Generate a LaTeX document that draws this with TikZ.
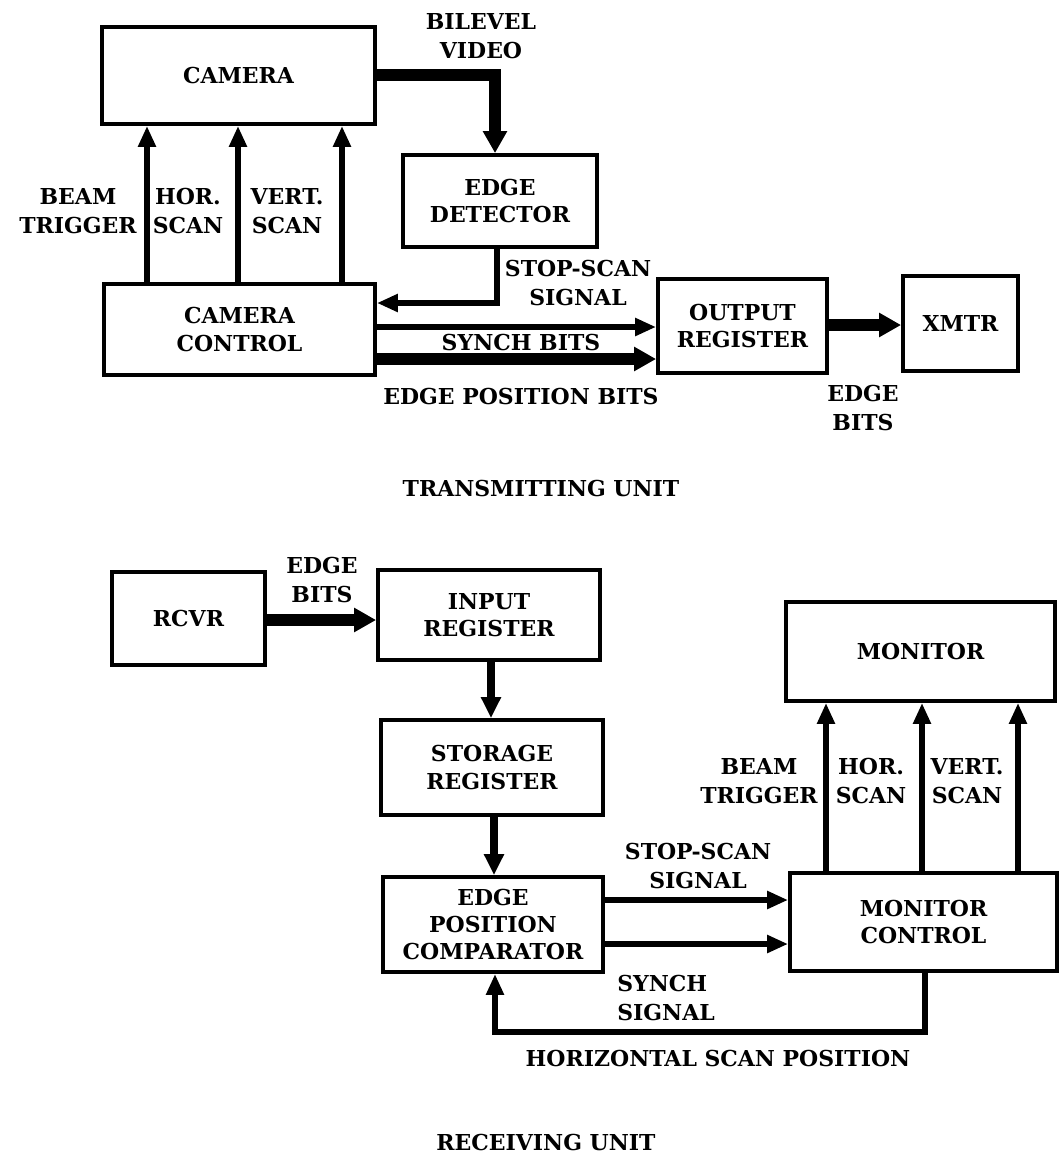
\documentclass[tikz,border=0pt]{standalone}
\usepackage{fontspec}
\setmainfont{DejaVu Serif}
\usetikzlibrary{arrows.meta}
\newcommand{\scanArrows}[3]{%%
  %% Beam trigger, horizontal scan and vertical scan.
  \foreach \xs in {#3}
    \draw[thinArrowStyle] (#1.north -| \xs,0) -- (#2.south -| \xs,0);
}
\newcommand{\scanLabels}[4]{%%
  \node[labelStyle] (#1beam) at (#2,#4) {BEAM\\TRIGGER};
  \node[labelStyle] (#1hor) at (#3,#4) {HOR.\\SCAN};
}

\begin{document}
\begin{tikzpicture}[%%
  x=0.02cm,y=-0.02cm,%%
  boxStyle/.style 2 args={draw,line width=2.2pt,inner sep=0pt,align=center,%%
    minimum width=#1cm,minimum height=#2cm,font=\fontsize{12.5}{15.5}\selectfont\bfseries},%%
  labelStyle/.style={align=center,inner sep=0pt,font=\fontsize{12.5}{16.5}\selectfont\bfseries},%%
  thinArrowStyle/.style={line width=3.2pt,miter limit=4,-{Triangle[length=0.42cm,width=0.34cm]}},%%
  midArrowStyle/.style={line width=4.6pt,-{Triangle[length=0.42cm,width=0.38cm]}},%%
  thickArrowStyle/.style={line width=7pt,-{Triangle[length=0.44cm,width=0.46cm]}}%%
]
\useasboundingbox (0,0) rectangle (1059,1160);
%%
%% Transmitting unit.
\node[boxStyle={5.46}{1.94}] (camera) at (238.5,75.5) {CAMERA};
\node[boxStyle={3.88}{1.84}] (detector) at (500,201) {EDGE\\DETECTOR};
\node[boxStyle={5.42}{1.82}] (cameraControl) at (239.5,329.5) {CAMERA\\CONTROL};
\node[boxStyle={3.38}{1.88}] (outputRegister) at (742.5,326) {OUTPUT\\REGISTER};
\node[boxStyle={2.30}{1.90}] (xmtr) at (960.5,323.5) {XMTR};
%%
\coordinate (videoBend) at (495,75);
\draw[thickArrowStyle] (camera.east |- videoBend) -- (videoBend) -- (detector.north -| videoBend);
\node[labelStyle] (videoLabel) at (481,36) {BILEVEL\\VIDEO};
%%
\scanArrows{cameraControl}{camera}{147,238,342}
\scanLabels{tx}{78}{188}{211}
\node[labelStyle] (txVert) at (287,211) {VERT.\\SCAN};
%%
\draw[thinArrowStyle] (detector.south -| 497,0) |- (cameraControl.east |- 0,303);
\node[labelStyle] (txStopLabel) at (578,283) {STOP-SCAN\\SIGNAL};
\draw[thinArrowStyle] (cameraControl.east |- 0,327) -- (outputRegister.west |- 0,327);
\node[labelStyle] (synchBitsLabel) at (521,342) {SYNCH BITS};
\draw[thickArrowStyle] (cameraControl.east |- 0,359) -- (outputRegister.west |- 0,359);
\node[labelStyle] (positionLabel) at (521,396) {EDGE POSITION BITS};
\draw[thickArrowStyle] (outputRegister.east |- 0,325) -- (xmtr.west |- 0,325);
\node[labelStyle] (txBitsLabel) at (863,408) {EDGE\\BITS};
\node[labelStyle] (txTitle) at (541,488) {TRANSMITTING UNIT};
%%
%% Receiving unit.
\node[boxStyle={3.06}{1.86}] (rcvr) at (188.5,618.5) {RCVR};
\node[boxStyle={4.44}{1.80}] (inputRegister) at (489,615) {INPUT\\REGISTER};
\node[boxStyle={4.44}{1.90}] (storageRegister) at (492,767.5) {STORAGE\\REGISTER};
\node[boxStyle={4.40}{1.90}] (comparator) at (493,924.5) {EDGE\\POSITION\\COMPARATOR};
\node[boxStyle={5.38}{1.98}] (monitor) at (920.5,651.5) {MONITOR};
\node[boxStyle={5.34}{1.96}] (monitorControl) at (923.5,922) {MONITOR\\CONTROL};
%%
\draw[thickArrowStyle] (rcvr.east |- 0,620) -- (inputRegister.west |- 0,620);
\node[labelStyle] (rxBitsLabel) at (322,580) {EDGE\\BITS};
\draw[midArrowStyle] (inputRegister.south -| 491,0) -- (storageRegister.north -| 491,0);
\draw[midArrowStyle] (storageRegister.south -| 494,0) -- (comparator.north -| 494,0);
%%
\scanArrows{monitorControl}{monitor}{826,922,1018}
\scanLabels{rx}{759}{871}{781}
\node[labelStyle] (rxVert) at (967,781) {VERT.\\SCAN};
%%
\draw[thinArrowStyle] (comparator.east |- 0,900) -- (monitorControl.west |- 0,900);
\node[labelStyle] (rxStopLabel) at (698,866) {STOP-SCAN\\SIGNAL};
\draw[thinArrowStyle] (comparator.east |- 0,944) -- (monitorControl.west |- 0,944);
\node[labelStyle,align=left,anchor=west] (synchLabel) at (617,998) {SYNCH\\SIGNAL};
%%
\coordinate (scanCorner) at (495,1032);
\draw[thinArrowStyle] (monitorControl.south -| 925,0) |- (scanCorner) -- (comparator.south -| scanCorner);
\node[labelStyle] (scanLabel) at (718,1058) {HORIZONTAL SCAN POSITION};
\node[labelStyle] (rxTitle) at (546,1142) {RECEIVING UNIT};
\end{tikzpicture}
\end{document}
